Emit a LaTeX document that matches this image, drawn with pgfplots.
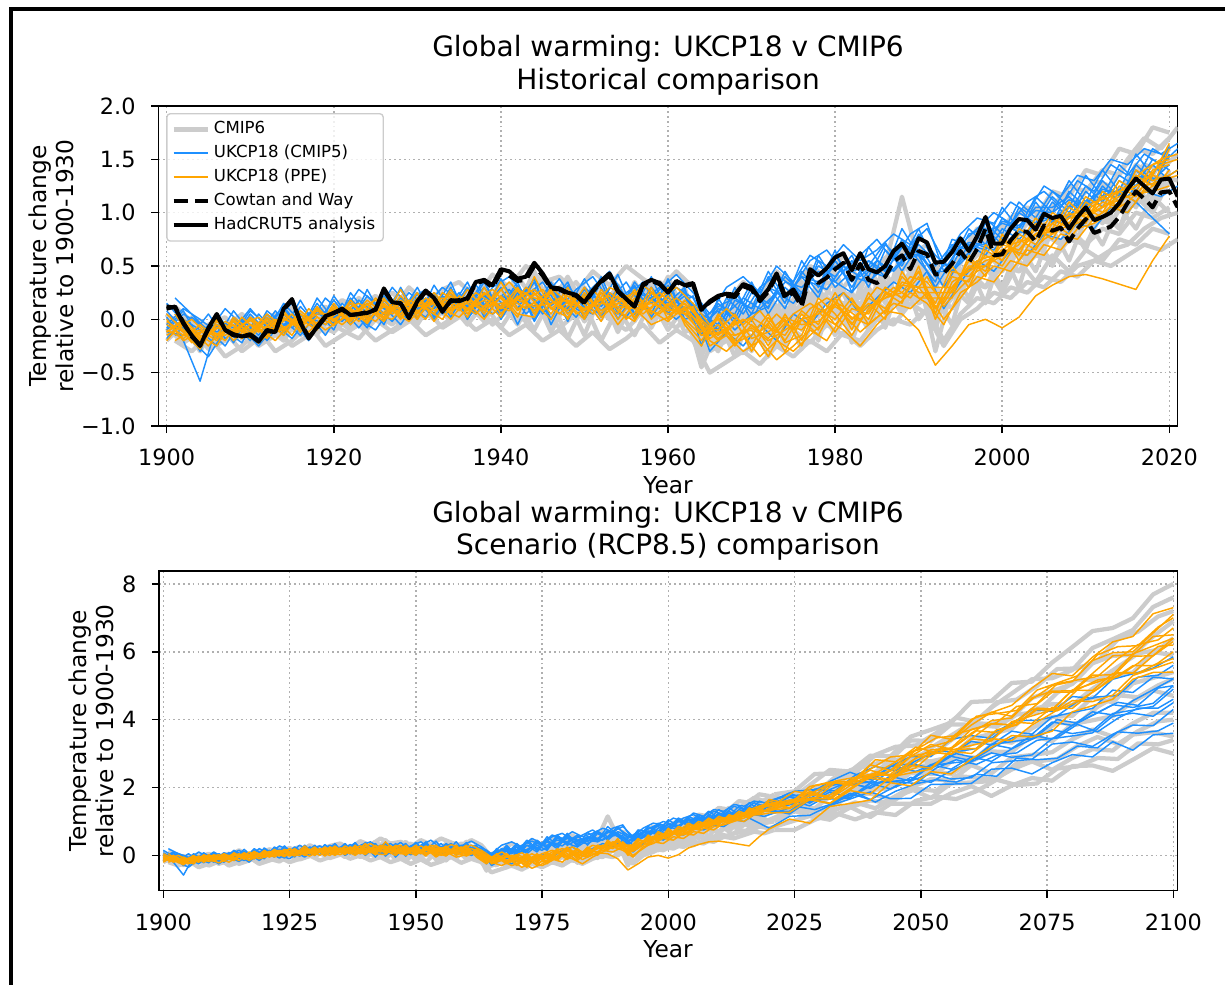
\documentclass[border=0pt]{standalone}
\usepackage{fontspec}
\setmainfont{DejaVu Sans}
\usepackage{pgfplots}
\usepackage{pgfplotstable}
\pgfplotsset{compat=1.18}

\definecolor{cmipgray}{RGB}{204,204,204}
\definecolor{ukblue}{RGB}{30,144,255}
\definecolor{ukorange}{RGB}{255,165,0}
\definecolor{gridgray}{RGB}{176,176,176}
\definecolor{legframe}{RGB}{204,204,204}

% ---------------- historical ensembles, even years ----------------
\pgfplotstableread{
yr g1 g2 g3 g4 g5 g6 g7 g8 g9
1900 -0.02 -0.12 0.05 -0.20 -0.08 0.02 -0.15 0.04 -0.10
1902 -0.10 -0.02 -0.15 -0.05 -0.22 0.00 -0.08 -0.12 -0.18
1904 -0.25 -0.18 -0.08 -0.30 -0.12 -0.20 -0.05 -0.22 -0.02
1906 -0.05 -0.20 -0.12 -0.02 -0.18 -0.08 -0.25 -0.10 -0.15
1908 -0.15 0.00 -0.10 -0.18 -0.02 -0.12 -0.05 -0.20 0.00
1910 0.02 -0.12 -0.20 -0.05 -0.15 0.00 -0.18 -0.06 -0.22
1912 -0.10 -0.02 0.03 -0.15 -0.08 -0.18 0.00 -0.04 -0.05
1914 0.05 -0.15 -0.05 0.02 -0.20 -0.02 -0.10 0.08 -0.18
1916 -0.08 0.05 -0.12 -0.02 0.04 -0.15 0.06 -0.10 0.02
1918 0.03 -0.08 0.06 -0.14 -0.05 0.08 -0.12 0.02 -0.10
1920 -0.06 0.10 -0.02 0.05 -0.12 0.02 0.08 -0.08 0.12
1922 0.12 -0.05 0.08 -0.06 0.04 -0.10 0.00 0.15 -0.04
1924 0.00 0.14 -0.04 0.10 -0.02 0.12 -0.08 0.05 0.18
1926 0.15 0.02 0.10 -0.05 0.08 -0.02 0.12 -0.04 0.00
1928 0.02 0.12 -0.02 0.15 -0.06 0.10 0.04 0.18 0.10
1930 0.18 0.00 0.14 0.04 0.12 -0.04 0.20 0.06 -0.05
1932 0.06 0.22 0.02 0.15 0.00 0.18 0.08 0.12 0.20
1934 0.20 0.05 0.18 -0.02 0.14 0.06 0.22 0.02 0.00
1936 0.08 0.25 0.04 0.18 -0.05 0.20 0.10 0.28 0.15
1938 0.30 0.10 0.22 0.06 0.15 0.00 0.25 0.12 -0.02
1940 0.15 0.35 0.05 0.20 -0.08 0.18 0.10 0.30 0.25
1942 0.40 0.12 0.25 0.02 0.16 -0.05 0.28 0.10 0.00
1944 0.18 0.45 0.08 0.28 -0.10 0.22 0.05 0.35 0.20
1946 0.35 0.10 0.30 0.00 0.20 -0.12 0.25 0.15 -0.05
1948 0.10 0.32 0.05 0.25 -0.18 0.18 0.02 0.40 0.22
1950 0.28 0.05 0.22 -0.02 0.15 -0.15 0.30 0.12 0.02
1952 0.08 0.30 0.00 0.20 -0.20 0.25 0.05 0.35 0.18
1954 0.32 0.02 0.25 -0.05 0.10 -0.12 0.22 0.08 -0.08
1956 0.05 0.35 0.02 0.28 -0.15 0.20 -0.02 0.30 0.15
1958 0.30 0.08 0.20 -0.08 0.18 -0.05 0.35 0.10 0.00
1960 0.10 0.38 0.00 0.22 -0.10 0.25 0.05 0.40 0.20
1962 0.25 0.00 0.15 -0.05 0.12 -0.12 0.30 0.05 -0.02
1964 -0.20 0.05 -0.35 -0.10 -0.45 -0.05 -0.25 0.00 -0.30
1966 0.10 -0.20 0.00 -0.30 -0.08 0.05 -0.25 0.08 -0.15
1968 -0.15 0.15 -0.35 0.05 -0.20 0.10 -0.10 0.18 0.05
1970 0.12 -0.10 0.08 -0.25 0.02 -0.30 0.15 -0.05 -0.18
1972 -0.05 0.20 -0.15 0.10 -0.35 0.15 -0.10 0.22 0.10
1974 0.20 -0.08 0.12 -0.20 0.08 -0.25 0.25 0.02 -0.12
1976 0.05 0.30 -0.10 0.18 -0.28 0.12 -0.05 0.35 0.15
1978 0.35 0.02 0.25 -0.10 0.15 -0.20 0.30 0.10 -0.05
1980 0.20 0.45 0.05 0.25 -0.15 0.30 0.00 0.40 0.10
1982 0.40 0.10 0.20 -0.05 0.18 -0.22 0.25 0.08 -0.08
1984 0.15 0.50 0.08 0.30 -0.10 0.28 -0.05 0.45 0.20
1986 0.50 0.20 0.35 0.05 0.30 -0.08 0.45 0.15 0.10
1988 1.15 0.55 0.20 0.40 0.05 0.45 0.10 0.65 0.30
1990 0.55 0.30 0.50 0.15 0.42 0.00 0.60 0.48 0.25
1992 0.30 0.40 0.05 0.25 -0.30 0.20 -0.10 0.35 0.00
1994 0.55 0.25 0.40 0.10 0.30 -0.05 0.45 0.35 0.20
1996 0.60 0.55 0.35 0.45 0.15 0.50 0.20 0.70 0.35
1998 0.85 0.45 0.65 0.30 0.50 0.15 0.55 0.75 0.30
2000 0.75 0.80 0.45 0.60 0.25 0.65 0.30 0.90 0.50
2002 1.00 0.65 0.75 0.45 0.55 0.30 0.70 0.85 0.45
2004 0.95 0.95 0.60 0.70 0.35 0.80 0.45 1.05 0.60
2006 1.20 0.85 0.90 0.55 0.60 0.50 0.85 1.00 0.55
2008 1.15 1.10 0.75 0.85 0.45 0.90 0.55 1.25 0.75
2010 1.40 1.00 1.05 0.70 0.65 0.65 0.95 1.20 0.70
2012 1.35 1.25 0.90 1.00 0.55 1.10 0.70 1.40 0.85
2014 1.60 1.15 1.20 0.85 0.75 0.85 1.05 1.35 0.80
2016 1.55 1.45 1.05 1.15 0.70 1.25 0.85 1.60 1.00
2018 1.80 1.35 1.35 1.00 0.85 1.05 1.15 1.55 0.95
2020 1.75 1.60 1.25 1.30 0.80 1.40 1.00 1.70 1.05
}\histgray

\pgfplotstableread{
yr b1 b2 b3 b4 b5 b6 b7 b8
1900 0.15 -0.10 0.02 -0.18 0.08 -0.05 -0.12 -0.08
1902 -0.02 0.05 -0.20 0.00 -0.10 0.10 -0.15 0.08
1904 -0.30 -0.05 -0.58 -0.10 -0.20 0.00 -0.12 -0.20
1906 0.05 -0.18 -0.05 -0.25 0.02 -0.12 0.00 -0.02
1908 -0.15 0.08 -0.10 0.02 -0.22 -0.02 -0.08 -0.15
1910 0.00 -0.12 0.10 -0.18 0.05 -0.20 0.02 0.08
1912 -0.18 0.02 -0.08 0.05 -0.12 0.08 -0.20 -0.05
1914 0.10 -0.15 0.05 -0.10 0.15 -0.05 0.00 0.12
1916 -0.10 0.12 -0.12 0.18 -0.02 0.05 -0.15 -0.08
1918 0.15 -0.05 0.20 -0.08 0.08 -0.10 0.05 0.10
1920 -0.05 0.18 0.00 0.10 -0.10 0.22 0.02 0.00
1922 0.20 -0.02 0.15 -0.05 0.25 0.00 0.10 0.18
1924 0.00 0.22 -0.05 0.28 0.05 0.15 -0.08 0.02
1926 0.25 0.05 0.18 0.00 0.12 -0.05 0.20 0.22
1928 0.05 0.28 0.02 0.20 -0.05 0.30 0.08 0.05
1930 0.30 0.00 0.25 0.08 0.18 0.02 0.25 0.20
1932 0.02 0.32 0.10 0.25 0.00 0.20 0.05 0.05
1934 0.28 0.08 0.35 0.02 0.22 0.10 0.30 0.28
1936 0.10 0.30 0.00 0.28 0.12 0.35 0.00 0.12
1938 0.35 0.05 0.25 0.10 0.38 0.02 0.22 0.30
1940 0.05 0.38 0.12 0.30 0.00 0.22 0.10 0.08
1942 0.30 0.10 0.35 -0.05 0.25 0.15 0.32 0.25
1944 0.08 0.35 0.00 0.28 0.12 0.38 -0.02 0.05
1946 0.35 0.00 0.28 0.15 0.30 -0.05 0.25 0.30
1948 0.05 0.32 0.10 0.35 -0.02 0.25 0.15 0.10
1950 0.25 0.10 0.38 0.00 0.30 0.12 0.05 0.28
1952 0.02 0.40 0.12 0.25 0.15 0.05 0.35 0.08
1954 0.30 0.05 0.28 0.10 0.42 0.20 0.00 0.25
1956 0.10 0.35 0.00 0.32 0.05 0.30 0.25 0.05
1958 0.40 0.15 0.25 0.05 0.30 0.02 0.20 0.30
1960 0.05 0.32 0.15 0.38 0.10 0.25 0.10 0.12
1962 0.28 0.05 0.30 0.00 0.22 0.10 0.05 0.25
1964 -0.15 0.10 -0.25 0.05 -0.10 0.15 -0.05 0.00
1966 0.15 -0.10 0.20 -0.05 0.10 -0.15 0.08 0.12
1968 0.00 0.25 -0.05 0.30 0.05 0.18 -0.10 0.20
1970 0.30 0.05 0.25 -0.02 0.35 0.10 0.05 0.10
1972 0.10 0.40 0.15 0.30 0.05 0.45 0.12 0.30
1974 0.45 0.15 0.40 0.10 0.30 0.20 0.35 0.22
1976 0.20 0.55 0.25 0.45 0.15 0.40 0.30 0.40
1978 0.60 0.30 0.50 0.25 0.55 0.20 0.45 0.35
1980 0.35 0.65 0.40 0.55 0.30 0.60 0.35 0.50
1982 0.55 0.25 0.60 0.30 0.45 0.40 0.25 0.35
1984 0.40 0.68 0.30 0.55 0.50 0.35 0.45 0.55
1986 0.70 0.45 0.65 0.40 0.72 0.50 0.40 0.45
1988 0.55 0.85 0.50 0.75 0.45 0.70 0.55 0.68
1990 0.85 0.60 0.80 0.55 0.70 0.65 0.60 0.62
1992 0.50 0.30 0.60 0.35 0.55 0.40 0.45 0.40
1994 0.70 0.55 0.45 0.75 0.50 0.65 0.45 0.62
1996 0.65 0.85 0.60 0.70 0.80 0.55 0.70 0.72
1998 0.95 0.70 0.90 0.65 0.85 0.80 0.60 0.70
2000 0.80 1.05 0.75 0.95 0.70 0.90 0.85 0.92
2002 1.10 0.85 1.00 0.80 1.05 0.85 0.75 0.88
2004 0.95 1.15 0.90 1.10 0.85 1.05 0.90 1.02
2006 1.20 1.00 1.15 0.90 1.10 1.05 0.95 1.00
2008 1.05 1.30 1.00 1.20 0.95 1.15 1.05 1.12
2010 1.35 1.10 1.25 1.05 1.20 1.00 1.10 1.08
2012 1.15 1.40 1.10 1.30 1.05 1.25 1.20 1.22
2014 1.45 1.20 1.35 1.15 1.30 1.10 1.20 1.18
2016 1.30 1.55 1.25 1.40 1.20 1.45 1.10 1.35
2018 1.60 1.35 1.50 1.25 1.45 1.30 0.95 1.30
2020 1.50 1.62 1.40 1.55 1.30 1.45 0.80 1.35
}\histblue

\pgfplotstableread{
yr o1 o2 o3 o4 o5 o6 o7 o8 o9
1900 -0.05 -0.15 0.00 -0.20 -0.10 0.05 -0.12 -0.02 -0.12
1902 -0.15 -0.05 -0.20 -0.02 -0.18 -0.10 0.00 -0.12 -0.02
1904 -0.10 -0.25 -0.12 -0.18 -0.05 -0.22 -0.15 -0.28 -0.20
1906 -0.20 -0.05 -0.15 0.00 -0.18 -0.08 -0.25 -0.02 -0.08
1908 0.00 -0.15 -0.05 -0.20 -0.02 -0.12 0.02 -0.15 -0.12
1910 -0.15 0.02 -0.18 -0.05 -0.12 0.00 -0.10 -0.05 0.00
1912 0.02 -0.10 0.00 -0.15 0.05 -0.18 -0.02 -0.08 -0.10
1914 -0.10 0.05 -0.12 0.02 -0.08 0.08 -0.15 0.00 0.05
1916 0.05 -0.08 0.08 -0.10 0.00 -0.12 0.05 -0.05 -0.05
1918 -0.08 0.10 -0.05 0.12 -0.10 0.02 -0.05 0.08 0.05
1920 0.12 -0.02 0.10 -0.06 0.15 -0.05 0.08 0.00 0.05
1922 -0.02 0.15 0.00 0.08 -0.05 0.18 -0.02 0.10 0.10
1924 0.15 0.02 0.18 -0.02 0.10 0.00 0.14 -0.04 0.00
1926 0.00 0.20 0.05 0.15 -0.02 0.12 0.02 0.18 0.12
1928 0.22 0.00 0.15 0.02 0.18 0.05 0.28 0.05 0.10
1930 0.05 0.18 0.00 0.20 0.08 0.25 0.02 0.15 0.12
1932 0.25 0.05 0.22 0.08 0.15 -0.02 0.20 0.05 0.15
1934 0.08 0.28 0.05 0.18 0.00 0.22 0.10 0.25 0.08
1936 0.22 0.05 0.28 0.02 0.20 0.10 0.15 0.08 0.18
1938 0.05 0.25 0.10 0.30 0.08 0.18 0.00 0.25 0.12
1940 0.28 0.10 0.20 0.05 0.35 0.02 0.22 0.10 0.15
1942 0.08 0.30 0.02 0.22 0.10 0.28 0.05 0.20 0.18
1944 0.25 0.05 0.40 0.08 0.15 0.20 0.02 0.28 0.12
1946 0.05 0.28 0.10 0.25 0.00 0.18 0.30 0.10 0.15
1948 0.30 0.00 0.22 0.05 0.25 0.08 0.15 0.02 0.18
1950 0.02 0.25 0.08 0.20 0.05 0.30 0.00 0.22 0.10
1952 0.25 0.05 0.18 -0.02 0.20 0.02 0.28 0.08 0.15
1954 0.00 0.22 0.05 0.30 -0.05 0.15 0.08 0.18 0.12
1956 0.20 0.02 0.28 0.00 0.15 0.10 -0.02 0.25 0.10
1958 0.05 0.30 0.00 0.18 0.10 -0.05 0.25 0.08 0.15
1960 0.22 0.00 0.15 0.05 0.30 0.02 0.10 -0.02 0.08
1962 -0.02 0.18 0.00 0.10 -0.05 0.15 0.05 0.12 0.10
1964 -0.20 0.00 -0.15 -0.05 -0.25 -0.02 -0.12 -0.08 -0.15
1966 0.02 -0.15 -0.05 -0.20 0.05 -0.18 0.00 -0.10 -0.12
1968 -0.20 -0.02 -0.25 0.00 -0.15 -0.05 -0.22 0.05 -0.15
1970 0.00 -0.25 -0.05 -0.30 -0.10 0.02 -0.15 -0.18 -0.08
1972 -0.25 0.02 -0.18 -0.05 -0.35 -0.08 0.05 -0.12 -0.20
1974 0.05 -0.20 0.00 -0.30 -0.05 -0.15 -0.22 0.02 -0.10
1976 -0.20 0.05 -0.25 0.00 -0.10 0.08 -0.15 -0.05 0.00
1978 0.15 -0.10 0.10 -0.15 0.08 -0.05 0.20 -0.02 0.05
1980 -0.05 0.20 0.00 0.15 -0.12 0.25 0.05 0.12 0.15
1982 0.15 -0.10 0.20 -0.05 0.10 0.00 -0.15 0.02 0.00
1984 0.00 0.25 -0.05 0.20 0.05 0.15 0.10 -0.05 0.12
1986 0.30 0.05 0.25 0.10 0.30 0.00 0.20 0.08 0.20
1988 0.20 0.40 0.15 0.35 0.20 0.45 0.25 0.05 0.32
1990 0.45 0.25 0.50 0.30 0.40 0.20 0.45 -0.10 0.30
1992 0.10 0.25 0.05 0.30 0.15 0.20 0.00 -0.43 0.10
1994 0.40 0.25 0.45 0.30 0.50 0.20 0.35 -0.25 0.30
1996 0.35 0.55 0.40 0.50 0.30 0.60 0.45 -0.05 0.48
1998 0.70 0.45 0.60 0.50 0.65 0.40 0.55 0.00 0.50
2000 0.55 0.75 0.50 0.70 0.55 0.80 0.60 -0.08 0.65
2002 0.80 0.60 0.75 0.65 0.85 0.55 0.70 0.02 0.65
2004 0.70 0.90 0.65 0.85 0.75 0.80 0.95 0.22 0.80
2006 0.95 0.80 0.90 0.75 1.00 0.85 0.80 0.32 0.82
2008 0.85 1.05 0.80 1.00 0.90 1.10 0.95 0.40 0.95
2010 1.10 0.95 1.05 0.90 1.15 0.95 1.00 0.42 0.98
2012 1.00 1.15 0.95 1.20 1.05 1.10 1.15 0.38 1.05
2014 1.25 1.05 1.20 1.10 1.30 1.05 1.20 0.33 1.12
2016 1.15 1.35 1.10 1.30 1.20 1.40 1.25 0.28 1.18
2018 1.40 1.25 1.35 1.20 1.45 1.30 1.35 0.55 1.20
2020 1.45 1.60 1.30 1.40 1.50 1.35 1.65 0.78 1.25
}\historange

% ---------------- historical ensembles, odd years ----------------
\pgfplotstableread{
yr h1 h2 h3 h4 h5
1901 0.08 -0.20 -0.05 0.12 -0.15
1903 -0.05 -0.30 -0.12 -0.02 0.02
1905 -0.28 -0.15 -0.05 -0.18 -0.22
1907 -0.20 -0.35 0.02 -0.08 -0.12
1909 -0.05 -0.25 -0.18 0.05 -0.30
1911 -0.25 -0.10 -0.05 -0.12 -0.18
1913 -0.15 -0.30 0.05 -0.02 -0.08
1915 0.10 -0.20 -0.10 0.15 -0.25
1917 -0.12 -0.05 0.00 -0.02 -0.15
1919 0.05 -0.25 0.12 -0.12 0.00
1921 0.18 -0.15 -0.05 0.02 -0.10
1923 0.10 -0.05 0.05 0.20 -0.18
1925 0.22 -0.20 0.15 0.05 0.00
1927 0.08 -0.10 0.25 -0.05 -0.12
1929 0.30 0.00 0.10 0.12 -0.02
1931 0.15 -0.15 0.05 0.25 0.10
1933 0.28 -0.05 0.18 0.10 -0.08
1935 0.35 0.05 0.10 0.20 0.02
1937 0.20 -0.10 0.28 0.05 0.15
1939 0.42 0.00 0.15 0.18 -0.05
1941 0.30 -0.15 0.05 0.32 0.10
1943 0.50 -0.05 0.22 0.15 -0.02
1945 0.35 -0.20 0.15 0.05 0.12
1947 0.40 -0.10 0.30 0.20 -0.08
1949 0.25 -0.25 0.10 0.35 0.05
1951 0.45 -0.12 0.20 0.12 0.15
1953 0.32 -0.28 0.05 0.22 0.00
1955 0.50 -0.18 0.15 0.05 -0.10
1957 0.38 -0.05 0.25 0.15 0.08
1959 0.28 -0.22 0.10 0.35 0.02
1961 0.45 -0.10 0.18 0.22 -0.08
1963 0.30 -0.20 0.05 0.12 0.10
1965 -0.05 -0.50 -0.25 -0.15 -0.30
1967 0.15 -0.40 -0.05 0.10 -0.20
1969 0.35 -0.30 -0.15 0.00 -0.32
1971 0.20 -0.42 0.05 0.22 -0.15
1973 0.45 -0.25 -0.08 0.10 -0.25
1975 0.30 -0.35 0.12 0.30 -0.10
1977 0.50 -0.20 0.00 0.15 -0.22
1979 0.40 -0.30 0.20 0.35 -0.05
1981 0.60 -0.12 0.15 0.25 -0.15
1983 0.35 -0.25 0.05 0.20 -0.20
1985 0.50 -0.10 0.30 0.45 0.00
1987 0.65 0.00 0.20 0.35 -0.05
1989 0.60 -0.05 0.45 0.55 0.15
1991 0.70 0.10 0.30 0.45 0.05
1993 0.35 -0.20 0.15 0.20 -0.25
1995 0.60 0.05 0.35 0.45 0.00
1997 0.85 0.20 0.50 0.60 0.10
1999 0.75 0.15 0.45 0.80 0.25
2001 0.95 0.30 0.65 0.70 0.20
2003 1.05 0.25 0.55 0.90 0.35
2005 0.95 0.40 0.80 0.85 0.30
2007 1.15 0.35 0.70 1.00 0.45
2009 1.10 0.50 0.85 0.95 0.40
2011 1.30 0.55 0.95 1.15 0.55
2013 1.25 0.65 0.90 1.10 0.50
2015 1.50 0.70 1.15 1.30 0.60
2017 1.70 0.85 1.10 1.45 0.70
2019 1.60 0.95 1.35 1.40 0.65
2021 1.80 1.00 1.30 1.55 0.75
}\histgrayodd

\pgfplotstableread{
yr c1 c2 c3 c4
1901 0.05 -0.15 0.20 -0.05
1903 -0.20 0.02 0.05 -0.15
1905 -0.35 -0.10 -0.12 0.05
1907 -0.10 -0.25 0.10 -0.18
1909 -0.22 0.00 -0.05 -0.08
1911 0.05 -0.15 -0.18 -0.25
1913 -0.12 0.08 0.02 -0.05
1915 0.00 -0.08 0.15 -0.18
1917 -0.20 0.05 -0.05 0.02
1919 0.08 -0.15 0.20 -0.05
1921 -0.02 0.10 0.05 0.15
1923 0.18 -0.08 0.28 0.00
1925 0.05 0.12 0.15 -0.10
1927 0.30 -0.02 0.05 0.12
1929 0.12 0.18 0.25 0.00
1931 0.02 0.28 0.12 0.20
1933 0.22 0.08 0.30 0.05
1935 0.10 0.25 0.18 0.15
1937 0.32 0.05 0.05 0.22
1939 0.15 0.22 0.30 0.05
1941 0.28 0.10 0.40 0.15
1943 0.05 0.30 0.22 0.28
1945 0.20 0.08 0.35 0.05
1947 0.38 0.18 0.10 0.22
1949 0.15 0.02 0.28 0.12
1951 0.30 0.22 0.40 0.05
1953 0.45 0.10 0.18 0.25
1955 0.20 0.02 0.35 0.10
1957 0.35 0.25 0.10 0.18
1959 0.10 0.12 0.28 0.30
1961 0.30 0.00 0.42 0.12
1963 0.20 0.15 0.25 0.22
1965 -0.10 -0.30 0.05 -0.15
1967 0.20 -0.12 0.30 0.05
1969 0.05 -0.25 0.40 0.20
1971 0.30 -0.05 0.25 0.10
1973 0.42 -0.20 0.50 0.25
1975 0.30 0.05 0.35 0.15
1977 0.55 -0.05 0.60 0.35
1979 0.65 0.15 0.50 0.28
1981 0.45 0.25 0.70 0.50
1983 0.60 0.05 0.55 0.40
1985 0.75 0.20 0.65 0.55
1987 0.55 0.35 0.80 0.45
1989 0.80 0.25 0.70 0.62
1991 0.90 0.45 0.85 0.58
1993 0.45 0.10 0.55 0.30
1995 0.70 0.35 0.80 0.55
1997 0.85 0.55 0.95 0.70
1999 1.00 0.45 0.90 0.65
2001 0.90 0.65 1.10 0.85
2003 1.10 0.60 1.00 0.80
2005 1.20 0.80 1.25 0.95
2007 1.05 0.75 1.15 0.90
2009 1.30 0.90 1.35 1.05
2011 1.20 0.85 1.30 1.10
2013 1.45 1.05 1.50 1.20
2015 1.35 1.00 1.45 1.15
2017 1.55 1.20 1.60 1.35
2019 1.45 1.15 1.55 1.30
2021 1.60 1.25 1.65 1.40
}\histblueodd

\pgfplotstableread{
yr p1 p2 p3 p4
1901 -0.20 0.05 -0.10 -0.02
1903 -0.10 -0.18 0.00 -0.22
1905 -0.25 -0.08 -0.15 -0.12
1907 -0.05 -0.20 -0.02 -0.15
1909 -0.18 0.02 -0.10 -0.05
1911 -0.08 -0.12 -0.22 0.02
1913 -0.20 0.00 -0.08 -0.12
1915 -0.02 -0.15 0.05 -0.05
1917 -0.12 0.10 -0.15 0.02
1919 0.05 -0.05 0.00 -0.10
1921 -0.05 0.12 0.08 0.00
1923 0.08 -0.02 0.15 0.10
1925 -0.02 0.20 0.05 0.18
1927 0.15 0.05 0.00 0.08
1929 0.05 0.15 0.18 -0.02
1931 0.20 0.00 0.10 0.15
1933 0.10 0.25 0.00 0.20
1935 0.02 0.15 0.22 0.08
1937 0.18 0.05 0.12 0.25
1939 0.28 0.20 0.05 0.15
1941 0.12 0.35 0.20 0.08
1943 0.25 0.18 0.10 0.30
1945 0.08 0.28 0.22 0.18
1947 0.20 0.10 0.30 0.05
1949 0.12 0.22 0.05 0.20
1951 0.28 0.05 0.15 0.12
1953 0.10 0.25 0.22 0.30
1955 0.20 0.15 0.00 0.22
1957 0.05 0.32 0.12 0.10
1959 0.18 0.20 0.25 0.05
1961 0.05 0.30 0.10 0.20
1963 0.12 0.15 0.02 0.08
1965 -0.25 -0.05 -0.20 -0.18
1967 -0.15 0.10 -0.30 -0.08
1969 -0.30 -0.05 -0.15 0.00
1971 -0.20 0.08 -0.35 -0.12
1973 -0.38 -0.12 -0.20 0.05
1975 -0.25 0.05 -0.30 -0.10
1977 -0.10 0.15 -0.15 0.10
1979 -0.20 0.05 0.00 0.20
1981 0.05 0.25 -0.10 0.12
1983 -0.12 0.10 -0.25 0.00
1985 0.02 0.30 -0.05 0.15
1987 0.15 0.22 0.10 0.30
1989 0.10 0.40 0.25 0.20
1991 0.25 0.35 0.15 0.40
1993 0.00 0.15 -0.05 0.12
1995 0.20 0.40 0.25 0.30
1997 0.40 0.55 0.35 0.45
1999 0.35 0.60 0.50 0.55
2001 0.55 0.70 0.45 0.65
2003 0.50 0.75 0.65 0.60
2005 0.70 0.85 0.60 0.75
2007 0.65 0.95 0.80 0.85
2009 0.85 1.00 0.75 0.90
2011 0.90 1.10 0.95 1.00
2013 1.00 1.15 1.05 1.10
2015 1.10 1.25 1.00 1.20
2017 1.25 1.40 1.20 1.30
2019 1.30 1.50 1.30 1.45
2021 1.40 1.55 1.35 1.50
}\historangeodd

% ---------------- RCP8.5 continuation ----------------
\pgfplotstableread{
yr g1 g2 g3 g4 g5 g6 g7 g8 g9
2020 1.75 1.60 1.25 1.30 0.80 1.40 1.00 1.70 1.05
2024 1.63 1.69 1.53 1.25 0.98 1.67 1.32 1.62 1.30
2028 2.07 1.79 1.37 1.61 1.16 1.55 1.33 2.04 1.30
2032 2.52 1.90 1.41 1.87 1.05 1.94 1.36 1.97 1.10
2036 2.47 2.42 1.86 2.14 1.43 1.83 1.79 2.51 1.41
2040 2.94 2.35 1.92 2.01 1.13 2.23 1.82 2.66 1.62
2044 2.92 2.78 1.98 2.10 1.52 2.54 1.66 2.82 1.54
2048 3.50 2.72 2.44 2.58 1.52 2.85 2.00 3.39 1.96
2052 3.70 3.17 2.51 2.68 1.52 2.77 2.25 3.37 1.69
2056 3.91 3.53 2.39 2.78 1.83 2.90 2.20 3.86 2.12
2060 4.52 3.90 2.77 3.29 2.04 3.44 2.66 3.85 2.15
2064 4.55 3.87 3.06 3.40 1.75 3.58 2.42 4.36 2.19
2068 5.08 4.05 3.05 3.32 2.06 3.73 2.89 4.77 2.53
2072 5.12 4.64 3.55 3.74 2.28 4.29 2.96 5.19 2.77
2076 5.68 4.84 3.36 4.08 2.20 4.46 3.04 5.22 2.52
2080 6.14 5.05 3.87 4.11 2.63 4.43 3.42 5.46 2.87
2084 6.61 5.66 3.98 4.66 2.65 4.91 3.71 6.11 3.13
2088 6.70 5.88 4.10 4.51 2.49 5.30 3.50 6.37 3.09
2092 6.99 5.91 4.53 5.07 2.82 5.39 3.89 6.64 3.56
2096 7.69 6.45 4.86 5.23 3.16 5.99 4.20 7.32 3.63
2100 8.00 6.90 4.70 5.40 3.00 5.90 4.20 7.60 3.50
}\futgray

\pgfplotstableread{
yr b1 b2 b3 b4 b5 b6 b7 b8
2020 1.50 1.62 1.40 1.55 1.30 1.45 0.80 1.35
2024 1.73 1.75 1.72 1.84 1.30 1.63 1.15 1.22
2028 1.66 1.81 1.54 1.58 1.70 1.46 1.18 1.63
2032 2.09 2.18 1.87 1.94 1.51 1.79 1.47 1.66
2036 2.13 2.45 1.70 2.19 1.83 2.13 1.66 1.69
2040 1.98 2.23 2.14 2.16 1.64 1.98 1.87 2.12
2044 2.33 2.62 2.18 2.62 1.96 2.33 1.67 1.96
2048 2.69 2.91 2.23 2.70 2.19 2.19 1.68 2.30
2052 2.55 2.91 2.68 2.58 2.42 2.65 2.09 2.15
2056 2.92 3.42 2.54 2.97 2.25 2.72 2.10 2.50
2060 2.79 3.53 2.90 3.36 2.29 2.79 2.12 2.76
2064 3.27 3.45 2.77 3.26 2.73 3.27 2.54 3.02
2068 3.35 3.87 3.14 3.66 2.78 3.15 2.57 2.89
2072 3.44 4.30 3.42 3.57 2.83 3.54 2.40 2.96
2076 3.93 4.24 3.70 4.08 3.28 3.43 2.73 3.44
2080 3.83 4.68 3.59 4.21 3.34 3.83 2.97 3.52
2084 4.23 4.63 3.68 4.33 3.21 4.13 2.90 3.61
2088 4.14 5.19 4.18 4.87 3.57 4.44 3.35 4.10
2092 4.56 5.35 4.28 4.80 3.84 4.36 3.10 4.19
2096 4.88 5.52 4.39 5.25 3.82 4.48 3.55 4.10
2100 5.20 5.85 4.90 5.20 4.30 5.00 3.60 4.50
}\futblue

\pgfplotstableread{
yr o1 o2 o3 o4 o5 o6 o7 o8 o9
2020 1.45 1.60 1.30 1.40 1.50 1.35 1.65 0.78 1.25
2024 1.59 1.40 1.57 1.58 1.39 1.38 1.51 1.07 1.27
2028 1.68 1.80 1.65 1.87 1.89 1.67 2.03 0.95 1.64
2032 1.78 2.12 1.54 1.66 1.70 1.66 2.16 1.44 1.53
2036 2.19 2.14 1.93 2.06 2.22 2.16 2.10 1.53 1.91
2040 2.51 2.67 2.33 2.37 2.35 2.27 2.54 1.63 1.81
2044 2.33 2.50 2.24 2.39 2.48 2.19 2.90 2.14 2.31
2048 2.77 3.05 2.65 2.91 2.92 2.61 2.96 2.05 2.43
2052 3.11 3.20 2.57 3.04 3.27 3.04 3.54 2.47 2.54
2056 3.16 3.37 3.10 2.98 3.13 2.98 3.42 2.40 3.07
2060 3.71 3.84 3.24 3.43 3.60 3.43 4.01 2.84 3.00
2064 3.88 4.22 3.38 3.88 3.97 3.38 4.21 3.18 3.44
2068 3.85 4.10 3.93 3.84 4.05 3.94 4.42 3.53 3.38
2072 4.33 4.60 3.89 4.31 4.64 4.11 4.93 3.49 3.84
2076 4.81 5.00 4.36 4.29 4.84 4.29 5.36 3.66 4.19
2080 4.81 5.12 4.33 4.87 4.85 4.87 5.29 4.23 4.56
2084 5.31 5.74 4.81 5.06 5.36 4.86 5.84 4.41 4.53
2088 5.32 5.97 5.20 5.26 5.88 5.36 6.29 4.60 4.72
2092 5.94 6.00 5.59 5.87 5.91 5.37 6.45 5.19 5.30
2096 6.17 6.55 5.59 5.88 6.45 5.88 7.12 5.39 5.50
2100 6.40 7.10 5.80 6.40 6.50 6.30 7.30 5.40 5.70
}\futorange

\pgfplotstableread{
yr h1 h2 h3 h4 h5
2021 1.80 1.00 1.30 1.55 0.75
2025 1.89 1.31 1.44 1.82 0.75
2029 2.40 1.12 1.39 1.81 1.05
2033 2.41 1.34 1.84 2.30 1.25
2037 2.43 1.56 2.00 2.30 1.06
2041 2.96 1.39 1.96 2.30 1.27
2045 3.20 1.72 2.44 2.81 1.19
2049 3.24 1.96 2.42 2.94 1.61
2053 3.60 1.90 2.40 3.07 1.73
2057 4.06 2.34 2.89 3.50 1.66
2061 3.93 2.29 2.88 3.84 1.89
2065 4.51 2.25 3.38 3.79 2.23
2069 4.59 2.71 3.39 4.15 2.07
2073 4.99 2.77 3.50 4.22 2.12
2077 5.49 2.84 3.92 4.79 2.56
2081 5.51 3.22 3.85 5.17 2.62
2085 5.73 3.49 4.38 5.16 2.87
2089 6.36 3.28 4.72 5.55 2.84
2093 6.59 3.66 4.66 5.95 3.30
2097 7.04 3.95 5.01 6.06 3.27
2100 7.20 4.00 5.20 6.40 3.40
}\futgrayodd

\pgfplotstableread{
yr c1 c2 c3 c4
2021 1.60 1.25 1.65 1.40
2025 1.52 1.45 1.89 1.52
2029 1.95 1.35 1.94 1.84
2033 2.08 1.55 1.90 1.66
2037 2.12 1.86 2.36 1.79
2041 2.17 1.57 2.62 2.13
2045 2.62 1.89 2.50 2.17
2049 2.47 2.11 2.78 2.12
2053 2.73 2.23 3.07 2.57
2057 3.00 2.16 3.05 2.82
2061 2.87 2.39 3.15 2.68
2065 3.24 2.33 3.66 2.95
2069 3.52 2.87 3.97 3.02
2073 3.51 2.82 3.98 3.39
2077 4.00 2.86 4.11 3.47
2081 3.90 3.22 4.53 3.86
2085 4.20 3.17 4.67 3.64
2089 4.51 3.64 4.71 4.04
2093 4.42 3.60 5.25 4.34
2097 4.93 3.67 5.31 4.34
2100 5.00 3.90 5.60 4.60
}\futblueodd

\pgfplotstableread{
yr p1 p2 p3 p4
2021 1.40 1.55 1.35 1.50
2025 1.57 1.65 1.62 1.89
2029 1.66 2.05 1.79 1.78
2033 2.14 2.17 1.68 2.19
2037 2.04 2.19 2.07 2.30
2041 2.44 2.82 2.36 2.42
2045 2.35 2.76 2.37 2.75
2049 2.87 3.11 2.58 3.19
2053 3.00 3.46 3.10 3.03
2057 3.23 3.53 3.12 3.58
2061 3.67 4.10 3.15 3.74
2065 3.62 4.18 3.70 3.91
2069 3.87 4.27 3.84 4.39
2073 4.34 4.87 4.30 4.47
2077 4.31 5.08 4.26 5.06
2081 4.88 5.29 4.53 5.17
2085 5.17 5.91 4.90 5.27
2089 5.26 6.15 5.39 5.79
2093 5.66 6.18 5.37 6.21
2097 6.16 6.73 5.67 6.35
2100 6.20 7.00 6.00 6.70
}\futorangeodd

% ---------------- observations (annual) ----------------
\pgfplotstableread{
yr had cw
1900 0.12 0.10
1901 0.11 0.12
1902 -0.04 -0.03
1903 -0.15 -0.16
1904 -0.25 -0.24
1905 -0.08 -0.09
1906 0.05 0.04
1907 -0.10 -0.10
1908 -0.14 -0.15
1909 -0.16 -0.16
1910 -0.15 -0.14
1911 -0.21 -0.20
1912 -0.10 -0.11
1913 -0.12 -0.12
1914 0.10 0.09
1915 0.19 0.18
1916 -0.03 -0.02
1917 -0.18 -0.17
1918 -0.07 -0.08
1919 0.03 0.02
1920 0.06 0.06
1921 0.10 0.09
1922 0.04 0.04
1923 0.05 0.05
1924 0.06 0.07
1925 0.09 0.09
1926 0.29 0.27
1927 0.16 0.16
1928 0.15 0.15
1929 0.01 0.02
1930 0.17 0.16
1931 0.27 0.26
1932 0.20 0.20
1933 0.07 0.08
1934 0.18 0.17
1935 0.17 0.18
1936 0.20 0.19
1937 0.35 0.34
1938 0.37 0.36
1939 0.32 0.30
1940 0.47 0.44
1941 0.45 0.41
1942 0.38 0.36
1943 0.40 0.37
1944 0.53 0.50
1945 0.43 0.41
1946 0.30 0.29
1947 0.29 0.28
1948 0.25 0.24
1949 0.23 0.22
1950 0.16 0.15
1951 0.27 0.26
1952 0.36 0.35
1953 0.43 0.41
1954 0.27 0.26
1955 0.19 0.19
1956 0.12 0.12
1957 0.33 0.32
1958 0.37 0.36
1959 0.34 0.33
1960 0.25 0.25
1961 0.36 0.35
1962 0.32 0.31
1963 0.34 0.33
1964 0.09 0.09
1965 0.17 0.16
1966 0.22 0.21
1967 0.24 0.22
1968 0.23 0.21
1969 0.33 0.31
1970 0.30 0.28
1971 0.19 0.17
1972 0.28 0.26
1973 0.43 0.41
1974 0.22 0.20
1975 0.28 0.25
1976 0.15 0.12
1977 0.47 0.42
1978 0.41 0.34
1979 0.48 0.39
1980 0.58 0.47
1981 0.62 0.53
1982 0.46 0.37
1983 0.62 0.52
1984 0.47 0.37
1985 0.44 0.34
1986 0.50 0.40
1987 0.64 0.54
1988 0.71 0.60
1989 0.58 0.47
1990 0.76 0.64
1991 0.72 0.61
1992 0.53 0.42
1993 0.54 0.43
1994 0.63 0.52
1995 0.76 0.64
1996 0.64 0.53
1997 0.78 0.66
1998 0.96 0.85
1999 0.71 0.60
2000 0.71 0.61
2001 0.85 0.74
2002 0.94 0.83
2003 0.93 0.82
2004 0.84 0.73
2005 0.99 0.88
2006 0.95 0.83
2007 0.97 0.86
2008 0.85 0.73
2009 0.96 0.85
2010 1.05 0.94
2011 0.93 0.81
2012 0.96 0.84
2013 1.00 0.87
2014 1.09 0.96
2015 1.22 1.09
2016 1.32 1.20
2017 1.25 1.13
2018 1.18 1.05
2019 1.31 1.19
2020 1.32 1.20
2021 1.15 1.05
}\obs

\pgfplotsset{
  panel/.style={
    scale only axis,
    no markers,
    axis line style={line width=0.7pt},
    tick align=outside,
    xtick pos=left, ytick pos=left,
    major tick length=3.2pt,
    every tick/.style={black, line width=0.7pt},
    xticklabel shift=3.4pt, yticklabel shift=3.4pt,
    tick label style={font=\fontsize{10}{12}\selectfont},
    grid=major,
    major grid style={gridgray, line width=0.7pt, dash pattern=on 0.8pt off 1.35pt},
    every axis plot/.append style={line join=round},
  },
  ensgray/.style={draw=cmipgray, line width=1.9pt},
  ensblue/.style={draw=ukblue, line width=0.65pt},
  ensorange/.style={draw=ukorange, line width=0.65pt},
  obshad/.style={draw=black, line width=1.8pt},
  obscw/.style={draw=black, line width=1.8pt, dash pattern=on 6.5pt off 3pt},
}

\begin{document}
\begin{tikzpicture}[x=0.446531pt, y=0.446531pt]
\useasboundingbox (0,0) rectangle (1225,985);
\draw[line width=1.8pt] (11,-2) -- (11,975.5) -- (1227,975.5);

% ---------------- historical panel ----------------
\begin{axis}[panel,
  at={(70.686pt,249.611pt)}, anchor=south west,
  width=455.19pt, height=142.89pt,
  xmin=1899, xmax=2021, ymin=-1, ymax=2,
  xtick={1900,1920,1940,1960,1980,2000,2020},
  xticklabels={1900,1920,1940,1960,1980,2000,2020},
  ytick={-1,-0.5,0,0.5,1,1.5,2},
  yticklabels={−1.0,−0.5,0.0,0.5,1.0,1.5,2.0},
  legend style={at={(0.0078,0.978)}, anchor=north west,
    font=\fontsize{7.4}{8.8}\selectfont,
    draw=legframe, line width=0.6pt, fill=white, fill opacity=0.8, text opacity=1,
    rounded corners=1.5pt, inner xsep=2pt, inner ysep=2pt,
    nodes={inner sep=1.5pt}, row sep=0.6pt,
    cells={anchor=west}},
  legend image code/.code={\draw[#1, draw opacity=1] (0pt,0pt) -- (15.6pt,0pt);},
]
\pgfplotsinvokeforeach{g1,g2,g3,g4,g5,g6,g7,g8,g9}{
  \addplot[ensgray, forget plot] table[x=yr, y=#1] {\histgray};
}
\pgfplotsinvokeforeach{h1,h2,h3,h4,h5}{
  \addplot[ensgray, forget plot] table[x=yr, y=#1] {\histgrayodd};
}
\pgfplotsinvokeforeach{b1,b2,b3,b4,b5,b6,b7,b8}{
  \addplot[ensblue, forget plot] table[x=yr, y=#1] {\histblue};
}
\pgfplotsinvokeforeach{c1,c2,c3,c4}{
  \addplot[ensblue, forget plot] table[x=yr, y=#1] {\histblueodd};
}
\pgfplotsinvokeforeach{o1,o2,o3,o4,o5,o6,o7,o8,o9}{
  \addplot[ensorange, forget plot] table[x=yr, y=#1] {\historange};
}
\pgfplotsinvokeforeach{p1,p2,p3,p4}{
  \addplot[ensorange, forget plot] table[x=yr, y=#1] {\historangeodd};
}
\addlegendimage{ensgray}\addlegendentry{CMIP6}
\addlegendimage{ensblue, line width=0.8pt}\addlegendentry{UKCP18 (CMIP5)}
\addlegendimage{ensorange, line width=0.8pt}\addlegendentry{UKCP18 (PPE)}
\addplot[obscw] table[x=yr, y=cw] {\obs};
\addlegendentry{Cowtan and Way}
\addplot[obshad] table[x=yr, y=had] {\obs};
\addlegendentry{HadCRUT5 analysis}
\end{axis}

% ---------------- scenario panel ----------------
\begin{axis}[panel,
  at={(70.998pt,42.108pt)}, anchor=south west,
  width=454.88pt, height=142.76pt,
  xmin=1899.15, xmax=2100.87, ymin=-1.04, ymax=8.38,
  xtick={1900,1925,1950,1975,2000,2025,2050,2075,2100},
  xticklabels={1900,1925,1950,1975,2000,2025,2050,2075,2100},
  ytick={0,2,4,6,8},
  yticklabels={0,2,4,6,8},
]
\pgfplotsinvokeforeach{g1,g2,g3,g4,g5,g6,g7,g8,g9}{
  \addplot[ensgray] table[x=yr, y=#1] {\histgray};
  \addplot[ensgray] table[x=yr, y=#1] {\futgray};
}
\pgfplotsinvokeforeach{h1,h2,h3,h4,h5}{
  \addplot[ensgray] table[x=yr, y=#1] {\histgrayodd};
  \addplot[ensgray] table[x=yr, y=#1] {\futgrayodd};
}
\pgfplotsinvokeforeach{b1,b2,b3,b4,b5,b6,b7,b8}{
  \addplot[ensblue] table[x=yr, y=#1] {\histblue};
  \addplot[ensblue] table[x=yr, y=#1] {\futblue};
}
\pgfplotsinvokeforeach{c1,c2,c3,c4}{
  \addplot[ensblue] table[x=yr, y=#1] {\histblueodd};
  \addplot[ensblue] table[x=yr, y=#1] {\futblueodd};
}
\pgfplotsinvokeforeach{o1,o2,o3,o4,o5,o6,o7,o8,o9}{
  \addplot[ensorange] table[x=yr, y=#1] {\historange};
  \addplot[ensorange] table[x=yr, y=#1] {\futorange};
}
\pgfplotsinvokeforeach{p1,p2,p3,p4}{
  \addplot[ensorange] table[x=yr, y=#1] {\historangeodd};
  \addplot[ensorange] table[x=yr, y=#1] {\futorangeodd};
}
\end{axis}

% ---------------- titles and axis labels ----------------
\begin{scope}[every node/.style={inner sep=0pt}]
\node[anchor=base, font=\fontsize{12.5}{15}\selectfont] at (668,928) {Global warming: UKCP18 v CMIP6};
\node[anchor=base, font=\fontsize{12.5}{15}\selectfont] at (668,895.5) {Historical comparison};
\node[anchor=base, font=\fontsize{10.4}{12.5}\selectfont] at (668,491) {Year};
\node[anchor=base, rotate=90, font=\fontsize{10.4}{12.5}\selectfont] at (46,719) {Temperature change};
\node[anchor=base, rotate=90, font=\fontsize{10.4}{12.5}\selectfont] at (73,719) {relative to 1900-1930};

\node[anchor=base, font=\fontsize{12.5}{15}\selectfont] at (668,462.5) {Global warming: UKCP18 v CMIP6};
\node[anchor=base, font=\fontsize{12.5}{15}\selectfont] at (668,430) {Scenario (RCP8.5) comparison};
\node[anchor=base, font=\fontsize{10.4}{12.5}\selectfont] at (668,27.3) {Year};
\node[anchor=base, rotate=90, font=\fontsize{10.4}{12.5}\selectfont] at (86,254.2) {Temperature change};
\node[anchor=base, rotate=90, font=\fontsize{10.4}{12.5}\selectfont] at (113,254.2) {relative to 1900-1930};
\end{scope}
\end{tikzpicture}
\end{document}
